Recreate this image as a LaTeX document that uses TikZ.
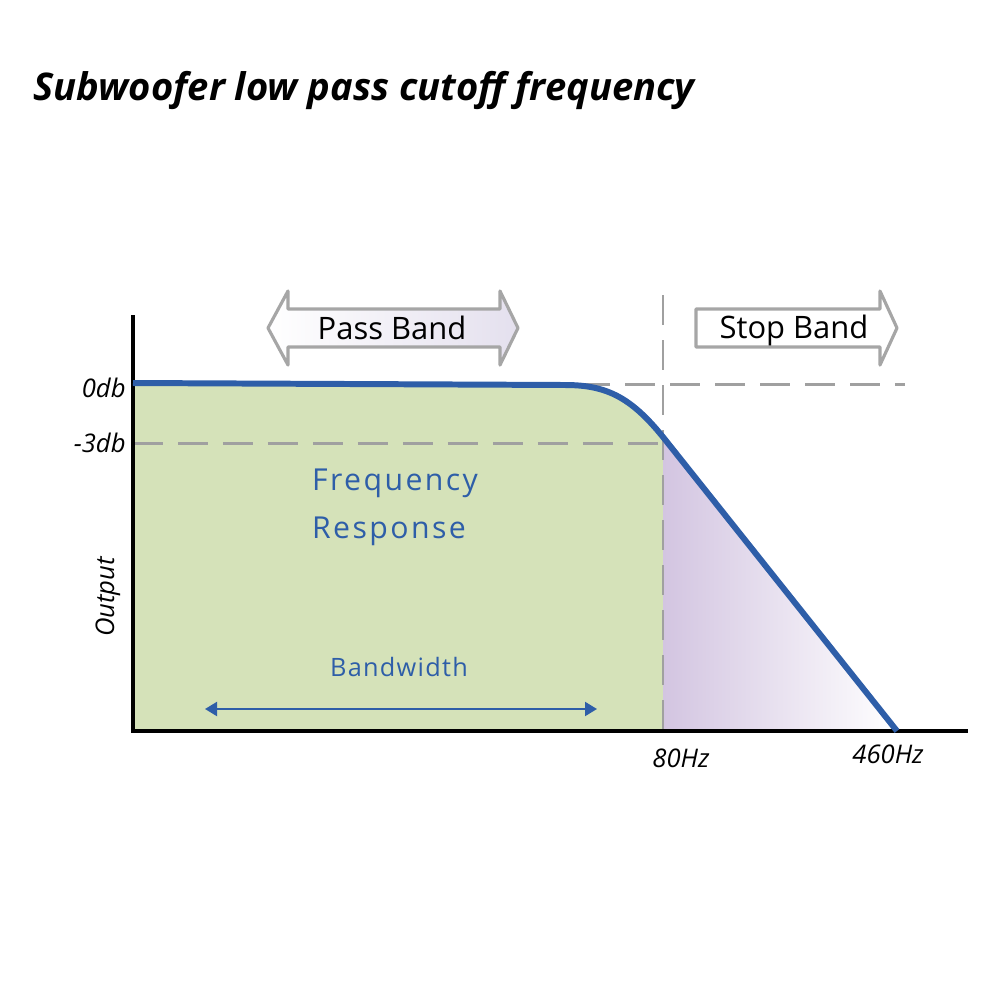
\documentclass[tikz,border=0pt]{standalone}
\usepackage{fontspec}
\setmainfont{Open Sans}
\usetikzlibrary{arrows.meta}
\definecolor{passgreen}{HTML}{D5E2B9}
\definecolor{stoppurple}{HTML}{D3C5E1}
\definecolor{curveblue}{HTML}{2E5EA8}
\definecolor{guidegray}{HTML}{A0A0A0}
\definecolor{bandgray}{HTML}{A6A6A6}
\definecolor{bandtint}{HTML}{E4E0EE}
\tikzset{
    guide/.style={guidegray, line width=0.85pt, dash pattern=on 3mm off 1.5mm},
    bandarrow/.style={bandgray, line width=0.9pt, line join=round},
    axislabel/.style={font=\fontsize{7.3}{8}\selectfont\itshape},
    bluetext/.style={curveblue, font=\fontsize{8.6}{9}\selectfont\addfontfeature{LetterSpace=8}}
}
\begin{document}
\begin{tikzpicture}[x=0.1mm, y=-0.1mm]
        \useasboundingbox (0,0) rectangle (1000,1000);
        % title
        \node[anchor=base west, inner sep=0, font=\fontsize{10.85}{12}\selectfont\bfseries\itshape] (title) at (33,100) {Subwoofer low pass cutoff frequency};
        % shaded areas
        \fill[passgreen] (133,731) -- (133,383) -- (565,385) .. controls (605,385) and (630,396) .. (663,437) -- (663,731) -- cycle;
        \shade[left color=stoppurple, right color=white] (663,437) -- (897,731) -- (663,731) -- cycle;
        % guide lines
        \draw[guide] (133,443) -- (663,443);
        \draw[guide] (580,384) -- (905,384);
        \draw[guide] (663,295) -- (663,731);
        % axes
        \draw[line width=0.9pt] (133,315) -- (133,731) -- (968,731);
        % response curve
        \draw[curveblue, line width=1.7pt, line join=round] (133,383) -- (565,385) .. controls (605,385) and (630,396) .. (663,437) -- (897,731);
        % band arrows
        \shade[left color=white, right color=bandtint] (268,328) -- (288,291) -- (288,309) -- (500,309) -- (500,291) -- (518,328) -- (500,365) -- (500,347) -- (288,347) -- (288,365) -- cycle;
        \draw[bandarrow] (268,328) -- (288,291) -- (288,309) -- (500,309) -- (500,291) -- (518,328) -- (500,365) -- (500,347) -- (288,347) -- (288,365) -- cycle;
        \draw[bandarrow, fill=white] (696,309) -- (880,309) -- (880,291) -- (897,328) -- (880,365) -- (880,347) -- (696,347) -- cycle;
        \node[font=\fontsize{8.8}{9}\selectfont] (pass) at (392,328) {Pass Band};
        \node[font=\fontsize{8.8}{9}\selectfont] (stop) at (794,330) {Stop Band};
        % axis labels
        \node[axislabel, anchor=east] (zerodb) at (138,388) {0db};
        \node[axislabel, anchor=east] (threedb) at (138,443) {-3db};
        \node[axislabel, rotate=90] (output) at (108,597) {Output};
        \node[axislabel] (lowhz) at (681,758) {80Hz};
        \node[axislabel] (highhz) at (888,754) {460Hz};
        % inside texts
        \node[bluetext] (freq) at (395,483) {Frequency};
        \node[bluetext] (resp) at (389,531) {Response};
        \node[curveblue, font=\fontsize{7.2}{8}\selectfont\addfontfeature{LetterSpace=5}] (bw) at (399,667) {Bandwidth};
        \coordinate (bwleft) at (205,709);
        \coordinate (bwright) at (597,709);
        \draw[curveblue, line width=0.6pt, {Triangle[length=1.2mm, width=1.4mm]}-{Triangle[length=1.2mm, width=1.4mm]}] (bwleft) -- (bwright);
    \end{tikzpicture}
\end{document}
